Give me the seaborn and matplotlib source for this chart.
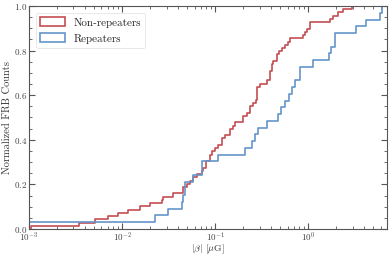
import numpy as np
import pandas as pd
import matplotlib
matplotlib.use("Agg")
import matplotlib.pyplot as plt
from matplotlib.patches import Patch
from matplotlib.ticker import MultipleLocator, LogLocator, NullFormatter
import seaborn as sns

nonrep_beta = [0.00104, 0.00344, 0.00512, 0.00706, 0.00903, 0.01156, 0.01556, 0.01994,
               0.02662, 0.02770, 0.03548, 0.04544, 0.04942, 0.05362, 0.05817, 0.06328,
               0.07161, 0.07450, 0.07963, 0.0873, 0.0935, 0.0995, 0.1080, 0.1174,
               0.1274, 0.1442, 0.1564, 0.1632, 0.2003, 0.2179, 0.2365, 0.2566,
               0.2723, 0.2792, 0.3029, 0.3574, 0.3878, 0.4045, 0.4208, 0.4577,
               0.4882, 0.5180, 0.5622, 0.6098, 0.6359, 0.8837, 0.9217, 0.9612,
               1.043, 1.711, 1.856, 2.100, 2.376, 2.925]
nonrep_count = [1, 1, 1, 1, 1, 1, 1, 1,
                1, 1, 1, 2, 1, 1, 1, 1,
                1, 1, 2, 2, 1, 1, 1, 2,
                1, 2, 1, 1, 2, 1, 2, 1,
                1, 4, 1, 1, 3, 2, 1, 2,
                1, 1, 1, 1, 1, 1, 1, 1,
                2, 1, 1, 1, 1, 1]

rep_beta = [0.0005, 0.02256, 0.03089, 0.04368, 0.04544, 0.04739, 0.05817, 0.07161,
            0.1080, 0.2089, 0.2466, 0.2676, 0.2904, 0.3574, 0.4670, 0.5053,
            0.5622, 0.6251, 0.6764, 0.7199, 0.8145, 1.123, 1.681, 1.753,
            1.936, 3.253, 4.136, 5.890, 6.234]
rep_count = [1, 1, 1, 1, 1, 2, 1, 2,
             1, 1, 1, 1, 1, 1, 1, 1,
             1, 1, 1, 1, 2, 1, 1, 1,
             2, 1, 1, 1, 1]

labels = ["Non-repeaters", "Repeaters"]
colors = ["#C44E52", "#6396CA"]

df = pd.concat([
    pd.DataFrame({"beta": np.repeat(nonrep_beta, nonrep_count), "kind": labels[0]}),
    pd.DataFrame({"beta": np.repeat(rep_beta, rep_count), "kind": labels[1]}),
])

sns.set_theme(style="ticks")
plt.rcParams.update({
    "font.family": "serif",
    "font.serif": ["cmr10"],
    "mathtext.fontset": "cm",
    "axes.formatter.use_mathtext": True,
    "axes.unicode_minus": False,
    "axes.edgecolor": "#555555",
    "xtick.color": "#555555",
    "ytick.color": "#555555",
    "xtick.labelcolor": "#444444",
    "ytick.labelcolor": "#444444",
})

fig = plt.figure(figsize=(3.9, 2.56), dpi=100)
ax = fig.add_axes([0.0744, 0.1055, 0.9171, 0.8711])

for lab, col in zip(labels, colors):
    sns.ecdfplot(data=df[df["kind"] == lab], x="beta", ax=ax, color=col,
                 lw=1.2, log_scale=True)

ax.set_xlim(1e-3, 6.95)
ax.set_ylim(0, 1.0)
ax.yaxis.set_major_locator(MultipleLocator(0.2))
ax.yaxis.set_minor_locator(MultipleLocator(0.05))
ax.xaxis.set_major_locator(LogLocator(base=10, numticks=10))
ax.xaxis.set_minor_locator(LogLocator(base=10, subs=np.arange(2, 10), numticks=20))
ax.xaxis.set_minor_formatter(NullFormatter())
ax.tick_params(which="both", direction="in", top=True, right=True, labelsize=6.5, pad=1.5)
ax.tick_params(which="major", length=4.5, width=0.8)
ax.tick_params(which="minor", length=2.2, width=0.6)
for s in ax.spines.values():
    s.set_linewidth(0.8)

ax.set_xlabel(r"$|\beta|$ [$\mu$G]", fontsize=7.0, color="#333333", labelpad=-1.6)
ax.set_ylabel("Normalized FRB Counts", fontsize=7.5, color="#333333", labelpad=1.5)

handles = [Patch(facecolor="none", edgecolor=c, lw=1.2, label=l) for l, c in zip(labels, colors)]
leg = ax.legend(handles=handles, loc="upper left", fontsize=8, frameon=True,
                fancybox=True, edgecolor="#dddddd", borderaxespad=0.6,
                handlelength=2.2, handleheight=0.9, labelspacing=0.5)
leg.get_frame().set_linewidth(0.6)

fig.savefig("out.png", dpi=100)
